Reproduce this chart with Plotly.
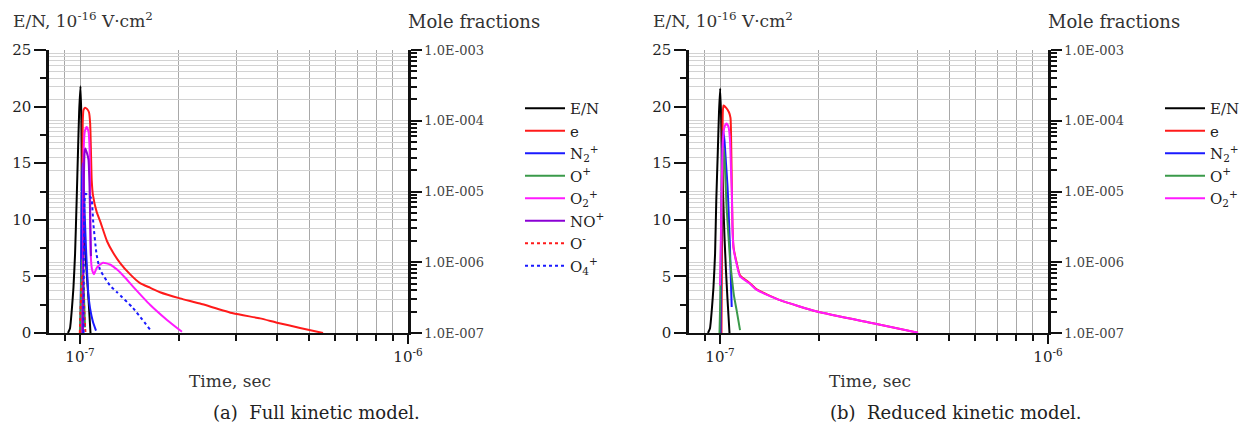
import plotly.graph_objects as go

T0 = 1e-7  # time values below are in units of 1e-7 s

# ---------------- (a) Full kinetic model ----------------
a_t_EN = [0.919, 0.932, 0.945, 0.955, 0.966, 0.977, 0.986, 0.994, 1.0035, 1.011, 1.018, 1.029, 1.039, 1.050, 1.0615, 1.069, 1.0765]
a_EN = [0, 0.4, 2.2, 4, 7, 11.8, 16, 19.5, 21.8, 18.5, 12.5, 9, 7, 5, 3, 1.5, 0]

a_t_e = [1.0106, 1.0163, 1.0191, 1.0249, 1.036, 1.050, 1.065, 1.074, 1.080, 1.0856, 1.095, 1.124, 1.151, 1.209, 1.261,
         1.324, 1.420, 1.524, 1.635, 1.754, 2.018, 2.322, 2.928, 3.539, 3.987, 4.687, 5.508]
a_e = [1.0e-7, 3.98e-6, 9.12e-5, 1.42e-4, 1.53e-4, 1.47e-4, 1.32e-4, 9.12e-5, 3.63e-5, 1.45e-5, 8.95e-6, 5.15e-6, 3.84e-6,
       1.98e-6, 1.37e-6, 9.82e-7, 6.79e-7, 5.06e-7, 4.37e-7, 3.77e-7, 3.09e-7, 2.61e-7, 1.90e-7, 1.61e-7, 1.40e-7, 1.18e-7, 1.0e-7]

a_t_N2 = [1.0035, 1.0092, 1.014, 1.0191, 1.0249, 1.032, 1.043, 1.060, 1.073, 1.095, 1.119]
a_N2 = [1.0e-7, 1.905e-6, 1.45e-5, 2.51e-5, 1.74e-5, 5.75e-6, 1.585e-6, 3.63e-7, 2.25e-7, 1.445e-7, 1.08e-7]

a_t_Op = [1.0, 1.007, 1.014, 1.021, 1.029, 1.036]
a_Op = [1.0e-7, 4.37e-7, 1.10e-6, 7.59e-7, 3.02e-7, 1.20e-7]

a_t_O2 = [1.0177, 1.0234, 1.0270, 1.0343, 1.048, 1.0615, 1.069, 1.074, 1.078, 1.088, 1.103, 1.127, 1.175, 1.234, 1.297,
          1.371, 1.451, 1.635, 1.842, 2.046]
a_O2 = [1.0e-7, 8.32e-6, 4.37e-5, 7.05e-5, 8.17e-5, 7.05e-5, 4.37e-5, 8.32e-6, 1.32e-6, 7.87e-7, 6.79e-7, 8.47e-7, 9.82e-7,
        9.29e-7, 7.87e-7, 6.08e-7, 4.53e-7, 2.51e-7, 1.53e-7, 1.04e-7]

a_t_NO = [1.021, 1.027, 1.032, 1.038, 1.050, 1.0615, 1.069, 1.075, 1.080]
a_NO = [1.0e-7, 1.20e-5, 3.37e-5, 4.06e-5, 3.50e-5, 2.81e-5, 1.20e-5, 3.31e-6, 1.22e-6]

a_t_Om = [0.9986, 1.0035, 1.0106, 1.0177, 1.0249, 1.032, 1.0394]
a_Om = [1.0e-7, 2.09e-7, 4.37e-7, 6.79e-7, 4.37e-7, 1.74e-7, 1.0e-7]

a_t_O4 = [1.0249, 1.032, 1.0394, 1.058, 1.0765, 1.0856, 1.098, 1.124, 1.151, 1.234, 1.297, 1.451, 1.635]
a_O4 = [1.0e-7, 6.92e-6, 9.29e-6, 8.95e-6, 8.32e-6, 7.59e-6, 3.56e-6, 1.27e-6, 7.87e-7, 4.70e-7, 3.77e-7, 2.25e-7, 1.12e-7]

# ---------------- (b) Reduced kinetic model ----------------
b_t_EN = [0.919, 0.932, 0.945, 0.955, 0.966, 0.9744, 0.9847, 0.993, 1.0014, 1.0106, 1.021, 1.032, 1.043, 1.054, 1.0615, 1.069]
b_EN = [0, 0.4, 2.2, 4, 7, 11.8, 16, 19.5, 21.6, 18, 12.5, 8.5, 5.5, 3, 1.5, 0]

b_t_e = [1.0106, 1.0163, 1.0199, 1.0249, 1.043, 1.065, 1.0765, 1.0826, 1.0864, 1.0917, 1.0995, 1.124, 1.151, 1.234, 1.294,
         1.524, 1.976, 2.928, 4.015]
b_e = [1.0e-7, 8.32e-6, 1.32e-4, 1.64e-4, 1.53e-4, 1.32e-4, 1.10e-4, 3.63e-5, 1.20e-5, 3.31e-6, 1.64e-6, 9.82e-7, 6.55e-7,
       5.06e-7, 4.13e-7, 2.91e-7, 2.01e-7, 1.37e-7, 1.01e-7]

b_t_N2 = [1.0035, 1.0106, 1.0163, 1.0227, 1.032, 1.043, 1.054, 1.0615, 1.0712, 1.0787, 1.0856]
b_N2 = [1.0e-7, 3.98e-6, 3.63e-5, 7.31e-5, 5.25e-5, 2.51e-5, 1.20e-5, 5.75e-6, 1.905e-6, 6.31e-7, 2.33e-7]

b_t_Op = [0.9965, 1.002, 1.007, 1.014, 1.0234, 1.032, 1.048, 1.0615, 1.073, 1.0856, 1.103, 1.124, 1.151]
b_Op = [1.0e-7, 3.02e-7, 1.905e-6, 1.20e-5, 4.37e-5, 3.02e-5, 5.75e-6, 2.29e-6, 1.10e-6, 6.31e-7, 3.37e-7, 2.09e-7, 1.10e-7]

b_t_O2 = [1.0, 1.007, 1.014, 1.021, 1.032, 1.0467, 1.0615, 1.073, 1.080, 1.0864, 1.0917, 1.0995, 1.124, 1.151, 1.234,
          1.294, 1.524, 1.976, 2.928, 4.015]
b_O2 = [4.70e-7, 2.75e-6, 1.74e-5, 5.25e-5, 8.17e-5, 9.12e-5, 8.17e-5, 5.25e-5, 2.09e-5, 1.0e-5, 3.08e-6, 1.585e-6,
        9.46e-7, 6.31e-7, 4.97e-7, 4.06e-7, 2.91e-7, 2.01e-7, 1.37e-7, 1.01e-7]

# ---------------- axis ticks ----------------
x_tickvals = [1e-7, 1e-6]
x_ticktext = ["10<sup>-7</sup>", "10<sup>-6</sup>"]
x_minorvals = [9e-8] + [k * 1e-7 for k in range(2, 10)]
en_tickvals = [0, 5, 10, 15, 20, 25]
mf_tickvals = [1e-7, 1e-6, 1e-5, 1e-4, 1e-3]
mf_ticktext = ["1.0E-007", "1.0E-006", "1.0E-005", "1.0E-004", "1.0E-003"]
mf_minorvals = [k * 10.0 ** e for e in range(-7, -3) for k in range(2, 10)]

FONT = "DejaVu Serif"
C = dict(EN="#000000", e="#ff1a1a", N2="#1a1aff", Op="#3a9a4a", O2="#ff1aff", NO="#8a00d4", Om="#ff1a1a", O4="#1a1aff")

fig = go.Figure()

def add(t, y, name, color, xa, ya, legend, dash="solid"):
    fig.add_trace(go.Scatter(x=[v * T0 for v in t], y=y, mode="lines", name=name,
                             line=dict(color=color, width=2, dash=dash, shape="spline", smoothing=0.5),
                             xaxis=xa, yaxis=ya, legend=legend))

# panel a
add(a_t_EN, a_EN, "E/N", C["EN"], "x", "y", "legend")
add(a_t_e, a_e, "e", C["e"], "x", "y2", "legend")
add(a_t_N2, a_N2, "N<sub>2</sub><sup>+</sup>", C["N2"], "x", "y2", "legend")
add(a_t_Op, a_Op, "O<sup>+</sup>", C["Op"], "x", "y2", "legend")
add(a_t_O2, a_O2, "O<sub>2</sub><sup>+</sup>", C["O2"], "x", "y2", "legend")
add(a_t_NO, a_NO, "NO<sup>+</sup>", C["NO"], "x", "y2", "legend")
add(a_t_Om, a_Om, "O<sup>-</sup>", C["Om"], "x", "y2", "legend", dash="dot")
add(a_t_O4, a_O4, "O<sub>4</sub><sup>+</sup>", C["O4"], "x", "y2", "legend", dash="dot")
# panel b
add(b_t_EN, b_EN, "E/N", C["EN"], "x2", "y3", "legend2")
add(b_t_e, b_e, "e", C["e"], "x2", "y4", "legend2")
add(b_t_N2, b_N2, "N<sub>2</sub><sup>+</sup>", C["N2"], "x2", "y4", "legend2")
add(b_t_Op, b_Op, "O<sup>+</sup>", C["Op"], "x2", "y4", "legend2")
add(b_t_O2, b_O2, "O<sub>2</sub><sup>+</sup>", C["O2"], "x2", "y4", "legend2")

W, H = 1251, 432
def px(x):
    return x / W
def py(y):
    return 1 - y / H

YDOM = [py(333), py(50)]
XRANGE = [-7.0945, -6]

def xaxis(dom, anchor):
    return dict(type="log", domain=dom, anchor=anchor, range=XRANGE, automargin=False,
                tickmode="array", tickvals=x_tickvals, ticktext=x_ticktext,
                ticks="outside", ticklen=9, tickwidth=2, tickcolor="#111",
                showline=True, linewidth=2, linecolor="#111", mirror=False,
                showgrid=True, gridcolor="#a8a8a8", gridwidth=1,
                minor=dict(tickmode="array", tickvals=x_minorvals, ticks="outside", ticklen=6,
                           tickwidth=2, tickcolor="#111", showgrid=True, gridcolor="#a8a8a8", gridwidth=1),
                tickfont=dict(family=FONT, size=15, color="#222"), zeroline=False, fixedrange=True)

def xinner(dom, anchor, over):
    # same axis again, only to draw the tick marks crossing into the plot
    return dict(type="log", domain=dom, anchor=anchor, overlaying=over, range=XRANGE, automargin=False,
                tickmode="array", tickvals=x_tickvals, ticks="inside", ticklen=6, tickwidth=2, tickcolor="#111",
                showticklabels=False, showline=False, showgrid=False, zeroline=False,
                minor=dict(tickmode="array", tickvals=x_minorvals, ticks="inside", ticklen=5, tickwidth=2,
                           tickcolor="#111", showgrid=False))

def yleft(anchor):
    return dict(domain=YDOM, anchor=anchor, range=[0, 25], tickmode="array", tickvals=en_tickvals, automargin=False,
                ticks="outside", ticklen=12, tickwidth=2, tickcolor="#111",
                showline=True, linewidth=2.5, linecolor="#111", showgrid=False, zeroline=False,
                minor=dict(dtick=2.5, ticks="outside", ticklen=6, tickwidth=2, tickcolor="#111", showgrid=False),
                tickfont=dict(family=FONT, size=15, color="#222"))

def yright(anchor, over):
    return dict(type="log", domain=YDOM, anchor=anchor, overlaying=over, side="right", range=[-7, -3],
                tickmode="array", tickvals=mf_tickvals, ticktext=mf_ticktext, automargin=False,
                ticks="outside", ticklen=11, tickwidth=2, tickcolor="#111",
                showline=True, linewidth=2.5, linecolor="#111",
                showgrid=True, gridcolor="#d2d2d2", gridwidth=1, zeroline=False,
                minor=dict(tickmode="array", tickvals=mf_minorvals, ticks="outside", ticklen=6, tickwidth=2,
                           tickcolor="#111", showgrid=True, gridcolor="#d2d2d2", gridwidth=1),
                tickfont=dict(family=FONT, size=13, color="#444"))

legfont = dict(family=FONT, size=15, color="#222")
fig.update_layout(
    width=W, height=H, margin=dict(l=0, r=0, t=0, b=0, autoexpand=False),
    paper_bgcolor="white", plot_bgcolor="white",
    xaxis=xaxis([px(49), px(408)], "y"),
    yaxis=yleft("x"),
    yaxis2=yright("x", "y"),
    xaxis2=xaxis([px(689), px(1048)], "y3"),
    yaxis3=yleft("x2"),
    yaxis4=yright("x2", "y3"),
    xaxis3=xinner([px(49), px(408)], "y", "x"),
    xaxis4=xinner([px(689), px(1048)], "y3", "x2"),
    legend=dict(x=px(520), y=py(92), xanchor="left", yanchor="top", font=legfont, itemwidth=40,
                bgcolor="rgba(0,0,0,0)", tracegroupgap=0),
    legend2=dict(x=px(1160), y=py(92), xanchor="left", yanchor="top", font=legfont, itemwidth=40,
                 bgcolor="rgba(0,0,0,0)", tracegroupgap=0),
    showlegend=True,
)

ann = []
for off, cap in [(0, "(a)  Full kinetic model."), (640, "(b)  Reduced kinetic model.")]:
    ann.append(dict(text="E/N, 10<sup>-16</sup> V·cm<sup>2</sup>", x=px(11 + off), y=py(20), xanchor="left",
                    yanchor="middle", font=dict(family=FONT, size=17, color="#333")))
    ann.append(dict(text="Mole fractions", x=px(406 + off), y=py(21), xanchor="left", yanchor="middle",
                    font=dict(family=FONT, size=18, color="#333")))
    ann.append(dict(text="Time, sec", x=px(230 + off), y=py(381), xanchor="center", yanchor="middle",
                    font=dict(family=FONT, size=17, color="#333")))
    ann.append(dict(text=cap, x=px(316 + off), y=py(412), xanchor="center", yanchor="middle",
                    font=dict(family=FONT, size=18, color="#222")))
for a in ann:
    a.update(xref="paper", yref="paper", showarrow=False)
fig.update_layout(annotations=ann)

fig.write_html("out.html")
